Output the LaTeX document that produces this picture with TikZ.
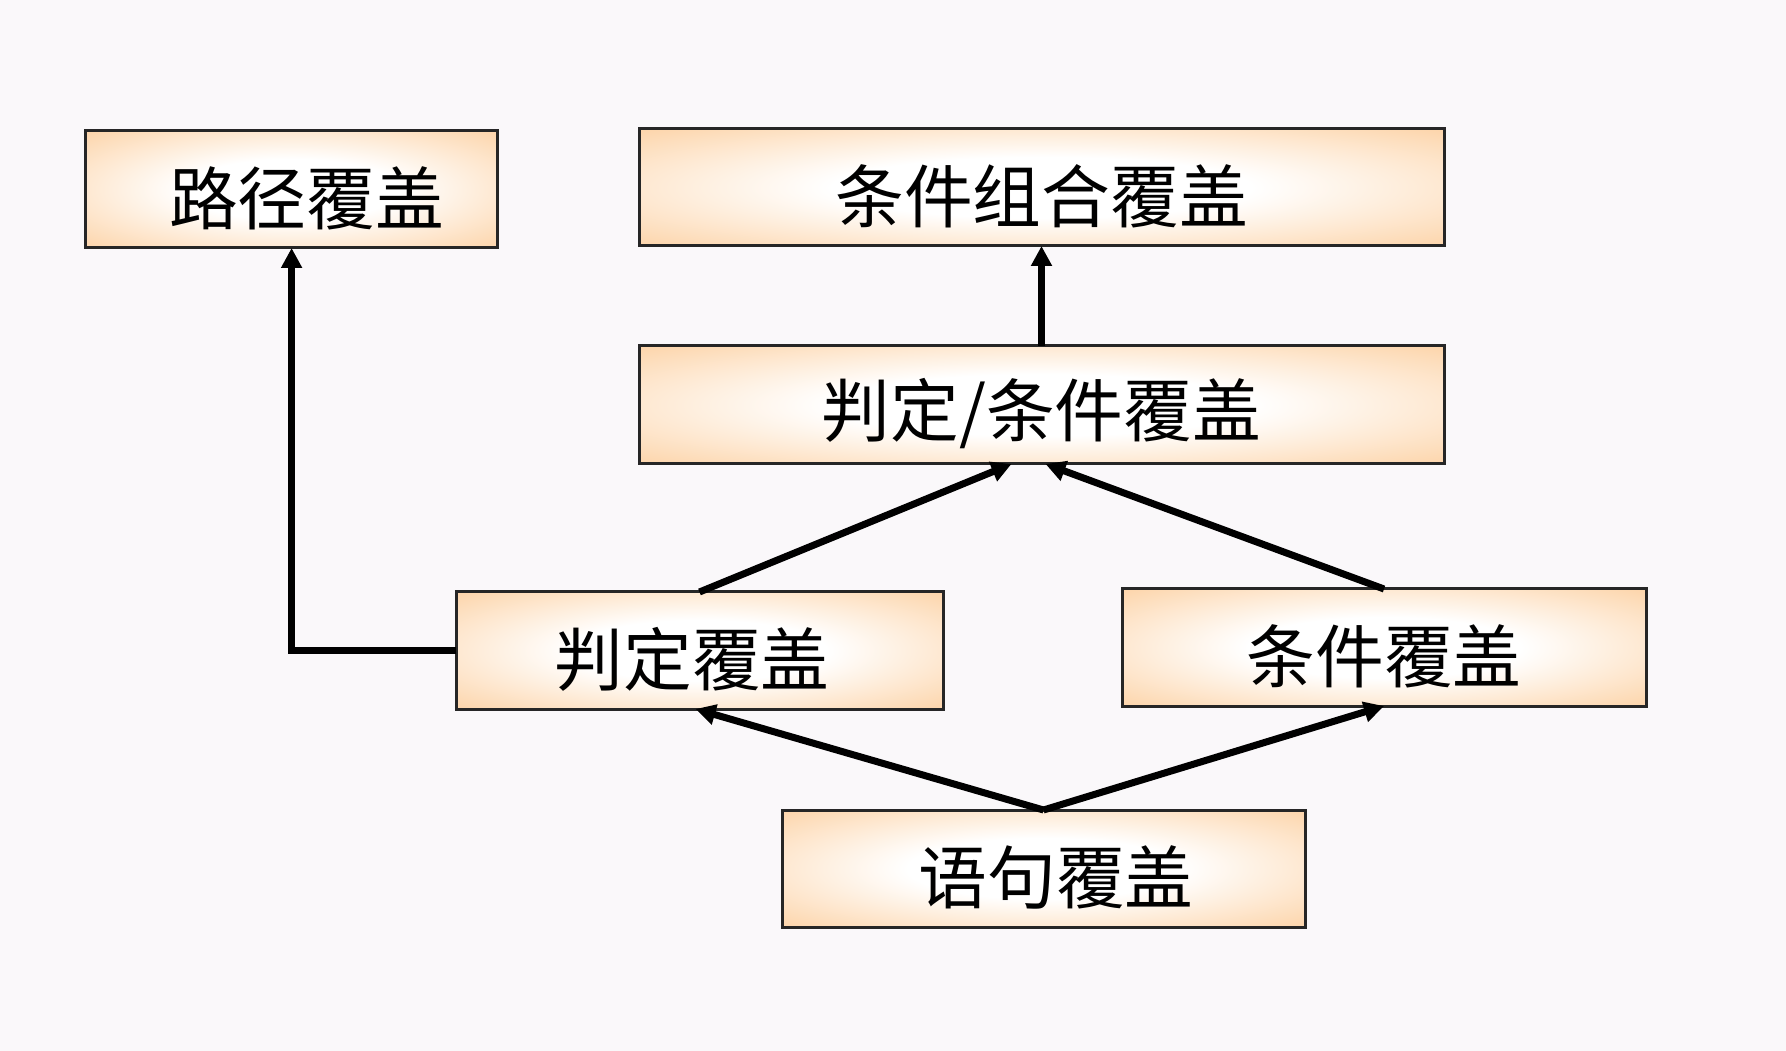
\documentclass[tikz,border=0pt]{standalone}
\usepackage{fontspec}
\newfontfamily\cjk{Noto Sans CJK SC}
\usetikzlibrary{arrows.meta,calc}
\definecolor{bgc}{RGB}{250,248,250}
\definecolor{boxor}{RGB}{252,200,145}
\pgfdeclareradialshading{boxshade}{\pgfpoint{0bp}{0bp}}{color(0bp)=(white); color(13bp)=(white); color(42bp)=(boxor); color(75bp)=(boxor)}
\newcommand{\bt}[1]{\raisebox{-3.5pt}[\height][\depth]{#1}}
\tikzset{
  cbox/.style={rectangle, draw=black!85, line width=1.2pt, shading=boxshade, inner sep=0pt, outer sep=0pt, font=\cjk\fontsize{27.5pt}{30pt}\selectfont, text=black},
  conn/.style={line width=2.8pt, -{Triangle[length=8pt,width=8pt]}}
}
\begin{document}
\begin{tikzpicture}[x=0.4pt,y=-0.4pt]
\fill[bgc] (0,0) rectangle (1786,1051);
\useasboundingbox (0,0) rectangle (1786,1051);
\node[cbox, minimum width=164.8pt, minimum height=46.8pt] (lujing) at (291.6,189.5) {\bt{\hspace*{12pt}路径覆盖}};
\node[cbox, minimum width=322pt, minimum height=46.8pt] (zuhe) at (1041.5,187.5) {\bt{条件组合覆盖}};
\node[cbox, minimum width=322pt, minimum height=47.2pt] (pdtj) at (1041.5,405) {\bt{判定/条件覆盖}};
\node[cbox, minimum width=194.8pt, minimum height=46.8pt] (pd) at (699.5,650.5) {\bt{判定覆盖\hspace*{6pt}}};
\node[cbox, minimum width=209.6pt, minimum height=46.8pt] (tj) at (1384,647.5) {\bt{条件覆盖}};
\node[cbox, minimum width=209.2pt, minimum height=46.8pt] (yj) at (1043.5,868.5) {\bt{\hspace*{10pt}语句覆盖}};
\draw[conn] (pd.west) -| (lujing.south);
\draw[conn] (pdtj.north) -- (zuhe.south);
\draw[conn] (pd.north) -- ($(pdtj.south)+(-30,0)$);
\draw[conn] (tj.north) -- ($(pdtj.south)+(4,0)$);
\draw[conn] (yj.north) -- ($(pd.south)+(-4,0)$);
\draw[conn] (yj.north) -- (tj.south);
\end{tikzpicture}
\end{document}
